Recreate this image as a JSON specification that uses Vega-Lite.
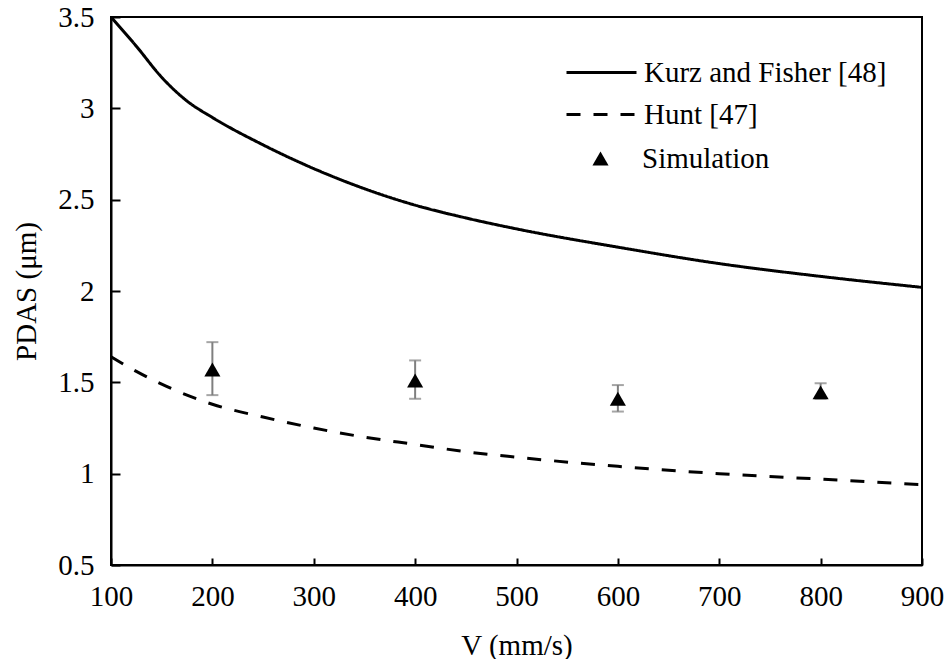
{
  "$schema": "https://vega.github.io/schema/vega-lite/v6.json",
  "autosize": {"type": "none"},
  "width": 811,
  "height": 548,
  "padding": {"left": 111, "top": 17, "right": 26, "bottom": 94},
  "background": "white",
  "config": {
    "view": {"stroke": "black", "strokeWidth": 2},
    "font": "Liberation Serif",
    "axis": {
      "domainColor": "black", "domainWidth": 2,
      "tickColor": "black", "tickWidth": 2,
      "labelFont": "Liberation Serif", "labelFontSize": 29, "labelColor": "black",
      "titleFont": "Liberation Serif", "titleFontSize": 29, "titleFontWeight": "normal", "titleColor": "black",
      "grid": false
    },
    "legend": {
      "labelFont": "Liberation Serif", "labelFontSize": 29, "labelColor": "black", "labelLimit": 500,
      "padding": 0, "labelOffset": 6
    }
  },
  "datasets": {
    "curves": [
      {"series": "Kurz and Fisher [48]", "V": 100, "PDAS": 3.5},
      {"series": "Kurz and Fisher [48]", "V": 125, "PDAS": 3.34},
      {"series": "Kurz and Fisher [48]", "V": 150, "PDAS": 3.17},
      {"series": "Kurz and Fisher [48]", "V": 175, "PDAS": 3.04},
      {"series": "Kurz and Fisher [48]", "V": 200, "PDAS": 2.95},
      {"series": "Kurz and Fisher [48]", "V": 250, "PDAS": 2.8},
      {"series": "Kurz and Fisher [48]", "V": 300, "PDAS": 2.67},
      {"series": "Kurz and Fisher [48]", "V": 350, "PDAS": 2.56},
      {"series": "Kurz and Fisher [48]", "V": 400, "PDAS": 2.47},
      {"series": "Kurz and Fisher [48]", "V": 450, "PDAS": 2.4},
      {"series": "Kurz and Fisher [48]", "V": 500, "PDAS": 2.34},
      {"series": "Kurz and Fisher [48]", "V": 600, "PDAS": 2.24},
      {"series": "Kurz and Fisher [48]", "V": 700, "PDAS": 2.15},
      {"series": "Kurz and Fisher [48]", "V": 800, "PDAS": 2.08},
      {"series": "Kurz and Fisher [48]", "V": 900, "PDAS": 2.02},
      {"series": "Hunt [47]", "V": 100, "PDAS": 1.64},
      {"series": "Hunt [47]", "V": 125, "PDAS": 1.56},
      {"series": "Hunt [47]", "V": 150, "PDAS": 1.49},
      {"series": "Hunt [47]", "V": 175, "PDAS": 1.43},
      {"series": "Hunt [47]", "V": 200, "PDAS": 1.38},
      {"series": "Hunt [47]", "V": 250, "PDAS": 1.31},
      {"series": "Hunt [47]", "V": 300, "PDAS": 1.25},
      {"series": "Hunt [47]", "V": 350, "PDAS": 1.2},
      {"series": "Hunt [47]", "V": 400, "PDAS": 1.16},
      {"series": "Hunt [47]", "V": 450, "PDAS": 1.12},
      {"series": "Hunt [47]", "V": 500, "PDAS": 1.09},
      {"series": "Hunt [47]", "V": 600, "PDAS": 1.04},
      {"series": "Hunt [47]", "V": 700, "PDAS": 1.0},
      {"series": "Hunt [47]", "V": 800, "PDAS": 0.97},
      {"series": "Hunt [47]", "V": 900, "PDAS": 0.94}
    ],
    "sim": [
      {"series": "Simulation", "V": 200, "PDAS": 1.57, "lo": 1.43, "hi": 1.72},
      {"series": "Simulation", "V": 400, "PDAS": 1.51, "lo": 1.41, "hi": 1.62},
      {"series": "Simulation", "V": 600, "PDAS": 1.41, "lo": 1.34, "hi": 1.485},
      {"series": "Simulation", "V": 800, "PDAS": 1.445, "lo": 1.41, "hi": 1.495}
    ]
  },
  "layer": [
    {
      "data": {"name": "curves"},
      "transform": [{"filter": "datum.series === 'Kurz and Fisher [48]'"}],
      "mark": {"type": "line", "color": "black", "strokeWidth": 3, "interpolate": "monotone", "clip": true},
      "encoding": {
        "x": {"field": "V", "type": "quantitative", "title": "V (mm/s)",
              "scale": {"domain": [100, 900], "nice": false, "zero": false},
              "axis": {"values": [100,200,300,400,500,600,700,800,900], "tickSize": -7, "labelPadding": 24, "titlePadding": 20, "labelFlush": false,
                       "labelFont": "Liberation Serif", "labelFontSize": 29, "titleFont": "Liberation Serif", "titleFontSize": 29}},
        "y": {"field": "PDAS", "type": "quantitative", "title": "PDAS (μm)",
              "scale": {"domain": [0.5, 3.5], "nice": false, "zero": false},
              "axis": {"values": [0.5,1,1.5,2,2.5,3,3.5], "format": ".2~f", "tickSize": -9, "labelPadding": 26, "titlePadding": 16, "labelFlush": false,
                       "labelFont": "Liberation Serif", "labelFontSize": 29, "titleFont": "Liberation Serif", "titleFontSize": 29}},
        "strokeDash": {"field": "series", "type": "nominal",
              "scale": {"domain": ["Kurz and Fisher [48]"], "range": [[1,0]]},
              "legend": {
                "orient": "none", "legendX": 454, "legendY": 19, "title": null,
                "symbolType": "stroke", "symbolSize": 4900, "symbolStrokeWidth": 3, "symbolStrokeColor": "black"
              }}
      }
    },
    {
      "data": {"name": "curves"},
      "transform": [{"filter": "datum.series === 'Hunt [47]'"}],
      "mark": {"type": "line", "color": "black", "strokeWidth": 3, "strokeDash": [14, 13], "interpolate": "monotone", "clip": true},
      "encoding": {
        "x": {"field": "V", "type": "quantitative", "title": "V (mm/s)"},
        "y": {"field": "PDAS", "type": "quantitative", "title": "PDAS (μm)"},
        "opacity": {"field": "series", "type": "nominal",
              "scale": {"domain": ["Hunt [47]"], "range": [1]},
              "legend": {
                "orient": "none", "legendX": 454, "legendY": 61, "title": null,
                "symbolType": "stroke", "symbolSize": 4900, "symbolStrokeWidth": 3, "symbolStrokeColor": "black", "symbolDash": [14, 13]
              }}
      }
    },
    {
      "data": {"name": "sim"},
      "mark": {"type": "errorbar", "color": "#7f7f7f", "thickness": 2, "ticks": {"size": 12}},
      "encoding": {
        "x": {"field": "V", "type": "quantitative", "title": "V (mm/s)"},
        "y": {"field": "lo", "type": "quantitative", "title": "PDAS (μm)"},
        "y2": {"field": "hi"}
      }
    },
    {
      "data": {"name": "sim"},
      "mark": {"type": "point", "filled": true, "color": "black", "opacity": 1, "size": 260},
      "encoding": {
        "x": {"field": "V", "type": "quantitative", "title": "V (mm/s)"},
        "y": {"field": "PDAS", "type": "quantitative", "title": "PDAS (μm)"},
        "shape": {"field": "series", "type": "nominal",
              "scale": {"domain": ["Simulation"], "range": ["triangle-up"]},
              "legend": {
                "orient": "none", "legendX": 475, "legendY": 127, "title": null, "labelOffset": 27,
                "symbolSize": 260, "symbolFillColor": "black", "symbolStrokeColor": "black", "symbolStrokeWidth": 0, "symbolOpacity": 1
              }}
      }
    }
  ]
}
